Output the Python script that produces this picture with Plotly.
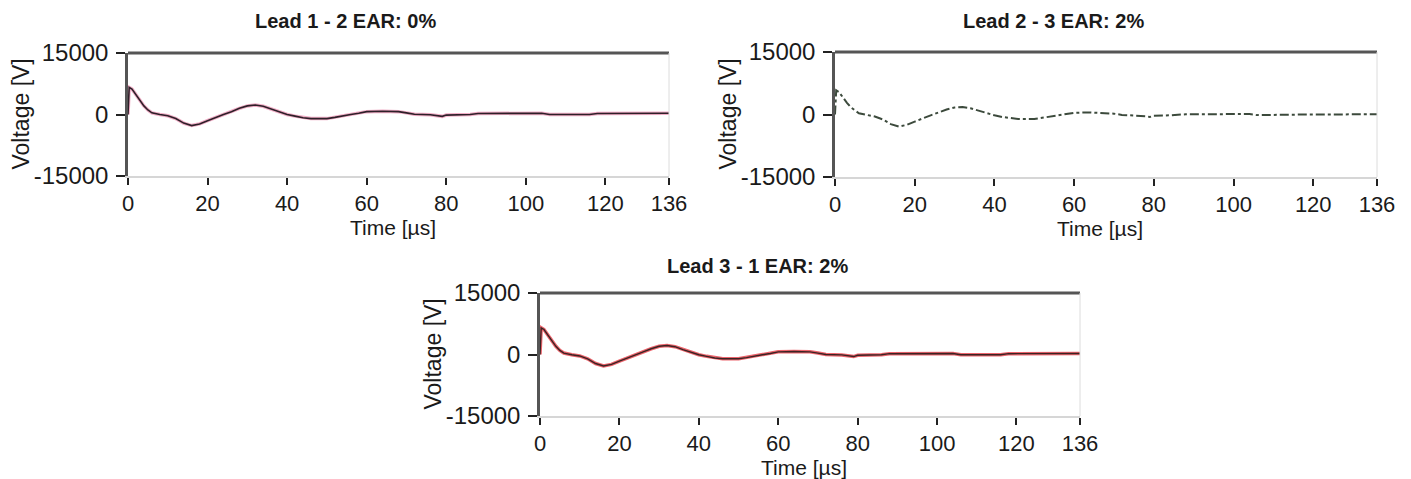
import plotly.graph_objects as go

# ---- data ----
time_us = [0, 0.3, 1, 2, 3, 4, 5, 6, 8, 10, 12, 14, 16, 18, 20, 22, 24, 26, 28, 30, 32, 34, 36, 38,
           40, 42, 44, 46, 50, 52, 54, 56, 58, 60, 64, 68, 70, 72, 76, 78, 79, 80, 84, 86, 88,
           100, 104, 106, 116, 118, 136]

v_12 = [0, 6600, 6200, 4800, 3300, 2100, 1100, 400, 0, -300, -1000, -2100, -2700, -2300, -1500,
        -700, 0, 700, 1500, 2100, 2300, 2000, 1300, 600, 0, -400, -800, -1000, -1000, -700, -300,
        0, 300, 700, 800, 700, 400, 50, -50, -250, -450, -150, -100, 0, 250, 300, 300, 0, 0,
        250, 300]

v_23 = [0, 5800, 5400, 4000, 2800, 1700, 900, 300, -100, -500, -1200, -2300, -2900, -2500, -1700,
        -900, -200, 500, 1200, 1700, 1800, 1500, 900, 300, -200, -600, -900, -1100, -1100, -800,
        -400, -100, 200, 400, 500, 400, 200, -100, -200, -400, -600, -300, -200, -100, 50, 100,
        100, -150, -150, 0, 50]

v_31 = [0, 6500, 6100, 4700, 3200, 2000, 1000, 350, -50, -350, -1050, -2200, -2800, -2400, -1600,
        -800, -50, 650, 1400, 2000, 2200, 1900, 1200, 500, -50, -450, -850, -1050, -1050, -750,
        -350, -50, 250, 650, 750, 650, 350, 0, -100, -300, -500, -200, -150, -50, 200, 250, 250,
        -50, -50, 200, 250]

x_ticks = [0, 20, 40, 60, 80, 100, 120, 136]
y_ticks = [-15000, 0, 15000]
titles = ["Lead 1 - 2 EAR: 0%", "Lead 2 - 3 EAR: 2%", "Lead 3 - 1 EAR: 2%"]

# page has an 8px body margin -> figure is offset by 8px; work in screen coords
OFF = 8
W, H = 1411 - 2 * OFF, 479 - OFF
FONT = "Arial, Liberation Sans, sans-serif"

# plot-area boxes in screen pixels (left, right, top, bottom) and title centre y
boxes = [(128, 669, 53, 176), (835, 1377, 52, 177), (540, 1080, 293, 416)]
title_y = [21, 21, 266]


def px(x):
    return (x - OFF) / W


def py(y):
    return 1 - (y - OFF) / H


fig = go.Figure()

# panel 1: dark line with pink halo
fig.add_trace(go.Scatter(x=time_us, y=v_12, mode="lines", xaxis="x", yaxis="y",
                         line=dict(color="rgba(225,90,140,0.5)", width=3.5), hoverinfo="skip"))
fig.add_trace(go.Scatter(x=time_us, y=v_12, mode="lines", xaxis="x", yaxis="y",
                         line=dict(color="#2e2029", width=1.6)))
# panel 2: dash-dot dark gray/green
fig.add_trace(go.Scatter(x=time_us, y=v_23, mode="lines", xaxis="x2", yaxis="y2",
                         line=dict(color="#3c4a3c", width=2, dash="dashdot")))
# panel 3: red line with dark core
fig.add_trace(go.Scatter(x=time_us, y=v_31, mode="lines", xaxis="x3", yaxis="y3",
                         line=dict(color="rgba(230,60,70,0.8)", width=3.5), hoverinfo="skip"))
fig.add_trace(go.Scatter(x=time_us, y=v_31, mode="lines", xaxis="x3", yaxis="y3",
                         line=dict(color="#3a2424", width=1.4)))

layout = dict(
    width=W, height=H, margin=dict(l=0, r=0, t=0, b=0, autoexpand=False),
    paper_bgcolor="white", plot_bgcolor="white", showlegend=False,
    font=dict(family=FONT, color="#1a1a1a"),
)

annotations = []
shapes = []
for i, (l, r, t, b) in enumerate(boxes):
    sfx = "" if i == 0 else str(i + 1)
    layout["xaxis" + sfx] = dict(
        domain=[px(l), px(r)], range=[0, 136], anchor="y" + sfx, automargin=False,
        tickmode="array", tickvals=x_ticks, ticktext=[str(v) for v in x_ticks],
        ticks="outside", ticklen=7, tickwidth=2, tickcolor="#222",
        showline=True, linecolor="#d6d6d6", linewidth=1.5,
        showgrid=False, zeroline=False, ticklabelstandoff=0,
        tickfont=dict(size=22, family=FONT, color="#1a1a1a"), fixedrange=True,
    )
    layout["yaxis" + sfx] = dict(
        domain=[py(b), py(t)], range=[-15000, 15000], anchor="x" + sfx, automargin=False,
        tickmode="array", tickvals=y_ticks, ticktext=[str(v) for v in y_ticks],
        ticks="outside", ticklen=9, tickwidth=1.5, tickcolor="#222",
        showline=True, linecolor="#555", linewidth=2.5,
        showgrid=False, zeroline=False, ticklabelstandoff=3,
        tickfont=dict(size=24, family=FONT, color="#1a1a1a"), fixedrange=True,
    )
    # top border (dark) and right border (faint)
    shapes.append(dict(type="line", xref="x%s domain" % sfx, yref="y%s domain" % sfx,
                       x0=0, x1=1, y0=1, y1=1, line=dict(color="#555", width=3)))
    shapes.append(dict(type="line", xref="x%s domain" % sfx, yref="y%s domain" % sfx,
                       x0=1, x1=1, y0=0, y1=1, line=dict(color="#dcdcdc", width=1)))
    # title
    cx = (l + r) / 2 - 53
    annotations.append(dict(text="<b>%s</b>" % titles[i], xref="paper", yref="paper",
                            x=px(cx), y=py(title_y[i]), xanchor="center", yanchor="middle",
                            showarrow=False, font=dict(size=20, family=FONT, color="#1a1a1a")))
    # x axis title
    annotations.append(dict(text="Time [µs]", xref="paper", yref="paper",
                            x=px((l + r) / 2 - 6), y=py(b + 51), xanchor="center",
                            yanchor="middle", showarrow=False,
                            font=dict(size=21, family=FONT, color="#1a1a1a")))
    # y axis title
    annotations.append(dict(text="Voltage [V]", xref="paper", yref="paper",
                            x=px(l - 108), y=py((t + b) / 2), xanchor="center",
                            yanchor="middle", textangle=-90, showarrow=False,
                            font=dict(size=23, family=FONT, color="#1a1a1a")))

layout["annotations"] = annotations
layout["shapes"] = shapes
fig.update_layout(**layout)

fig.write_html("out.html")
